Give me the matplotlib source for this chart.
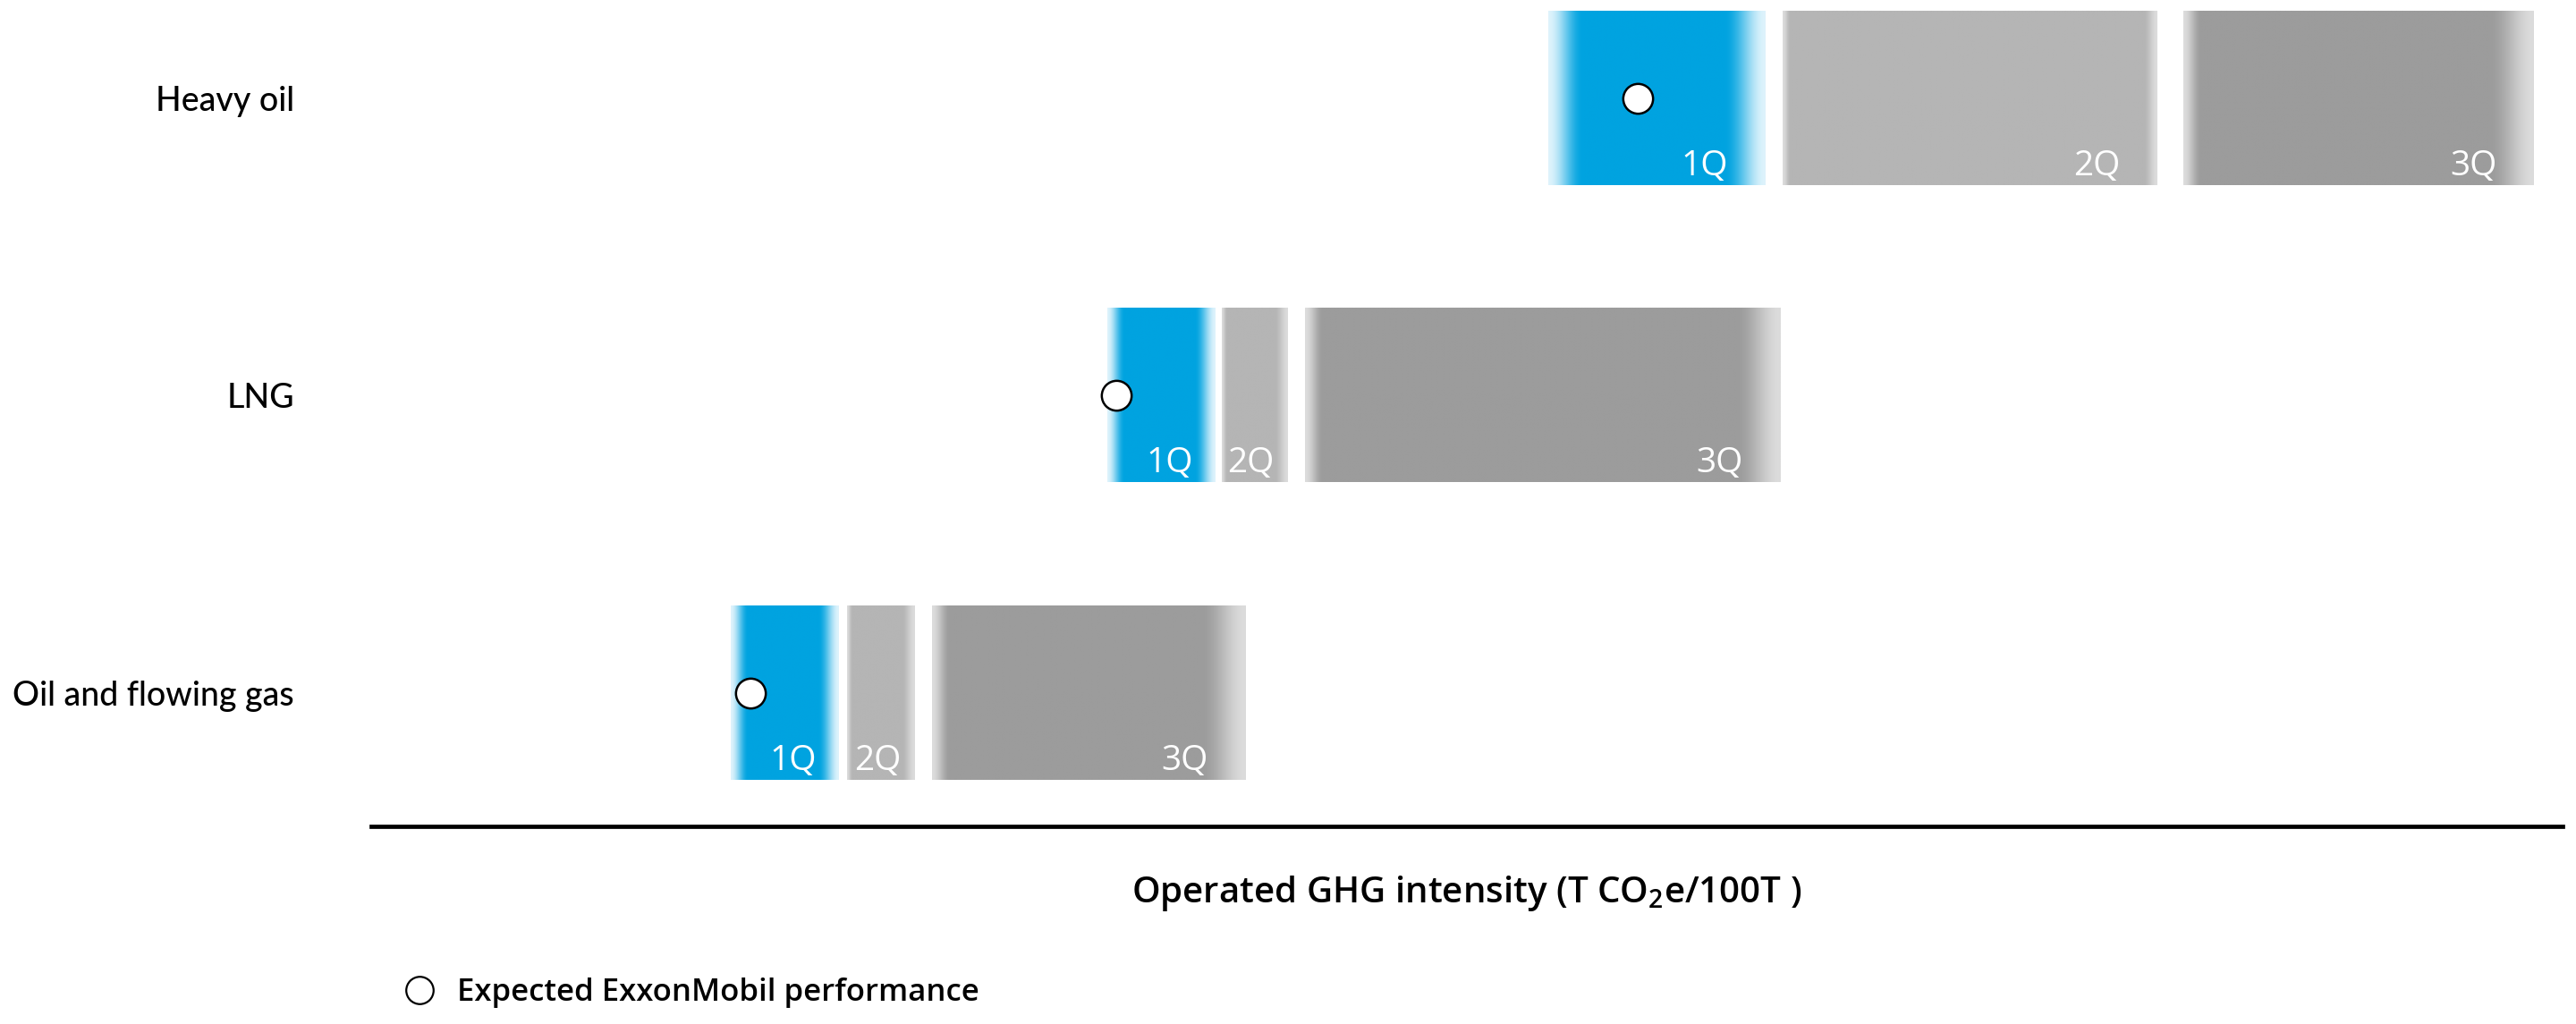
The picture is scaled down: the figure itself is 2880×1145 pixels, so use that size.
import numpy as np
import matplotlib
matplotlib.use("Agg")
from matplotlib import pyplot as plt
from matplotlib.lines import Line2D

plt.rcParams['font.family'] = ['Open Sans', 'DejaVu Sans']
plt.rcParams['mathtext.default'] = 'regular'

# rows bottom -> top
rows = ["Oil and flowing gas", "LNG", "Heavy oil"]
quartiles = ["1Q", "2Q", "3Q"]

# intensity ranges per quartile (no scale shown on the chart)
q1_lo = [16.4, 33.6, 53.7]
q1_hi = [21.3, 38.5, 63.6]
q2_lo = [21.7, 38.8, 64.4]
q2_hi = [24.8, 41.8, 81.5]
q3_lo = [25.6, 42.6, 82.7]
q3_hi = [39.9, 64.3, 98.7]

# expected ExxonMobil performance
expected = [17.3, 34.0, 57.8]

blue = np.array([0, 163, 224]) / 255
blue_edge = np.array([222, 243, 252]) / 255
grey2 = np.array([181, 181, 181]) / 255
grey3 = np.array([156, 156, 156]) / 255
grey_edge = np.array([220, 220, 220]) / 255

bar_h = 0.584


def grad_bar(ax, lo, hi, yc, base, edge, lf, rf):
    # horizontal gradient bar with soft edges
    n = 500
    xs = np.linspace(lo, hi, n)
    t = np.ones(n)
    if lf > 0:
        t = np.minimum(t, (xs - lo) / lf)
    if rf > 0:
        t = np.minimum(t, (hi - xs) / rf)
    t = np.clip(t, 0, 1)
    t = t * t * (3 - 2 * t)
    col = edge[None, :] + (base - edge)[None, :] * t[:, None]
    img = col[None, :, :]
    ax.imshow(img, extent=(lo, hi, yc - bar_h / 2, yc + bar_h / 2),
              aspect='auto', interpolation='bilinear', zorder=2)


fig = plt.figure(figsize=(28.8, 11.45), dpi=100)
ax = fig.add_axes([415 / 2880, 1 - 924 / 1145, 2450 / 2880, 924 / 1145])

for i in range(len(rows)):
    spans = [(q1_lo[i], q1_hi[i]), (q2_lo[i], q2_hi[i]), (q3_lo[i], q3_hi[i])]
    for j, (lo, hi) in enumerate(spans):
        w = hi - lo
        if j == 0:
            grad_bar(ax, lo, hi, i, blue, blue_edge, 0.16 * w, 0.19 * w)
        elif j == 1:
            grad_bar(ax, lo, hi, i, grey2, grey_edge, min(0.35, 0.08 * w), min(0.6, 0.2 * w))
        else:
            grad_bar(ax, lo, hi, i, grey3, grey_edge, min(0.8, 0.08 * w), min(2.0, 0.2 * w))
        off = min(0.2 * w, 1.7)
        ax.text(hi - off, i - bar_h / 2 + 0.033, quartiles[j], color='white',
                fontsize=28, ha='right', va='baseline', zorder=3)

ax.plot(expected, range(len(rows)), 'o', ms=24, mfc='white', mec='black',
        mew=1.8, ls='none', zorder=4)

ax.set_xlim(0, 100)
ax.set_ylim(-0.449, 2.331)
ax.set_yticks(range(len(rows)))
ax.set_yticklabels(rows, fontsize=27, fontweight='medium', family=['Lato', 'DejaVu Sans'])
ax.tick_params(axis='y', length=0, pad=62)
ax.set_xticks([])
for s in ['top', 'left', 'right']:
    ax.spines[s].set_visible(False)
ax.spines['bottom'].set_linewidth(3.4)
ax.spines['bottom'].set_color('black')

ax.set_xlabel("Operated GHG intensity (T CO$_2$e/100T )", fontsize=29,
              fontweight='semibold', labelpad=38)

h = Line2D([], [], marker='o', ls='none', ms=22, mfc='white', mec='black', mew=1.6)
ax.legend(handles=[h], labels=["Expected ExxonMobil performance"], loc='center left',
          bbox_to_anchor=(452 / 2880, 1 - 1110 / 1145), bbox_transform=fig.transFigure,
          frameon=False, handlelength=1.0, handletextpad=0.7,
          borderpad=0, borderaxespad=0, prop={'size': 25, 'weight': 'semibold'})

fig.savefig("out.png", dpi=100, facecolor='white')
